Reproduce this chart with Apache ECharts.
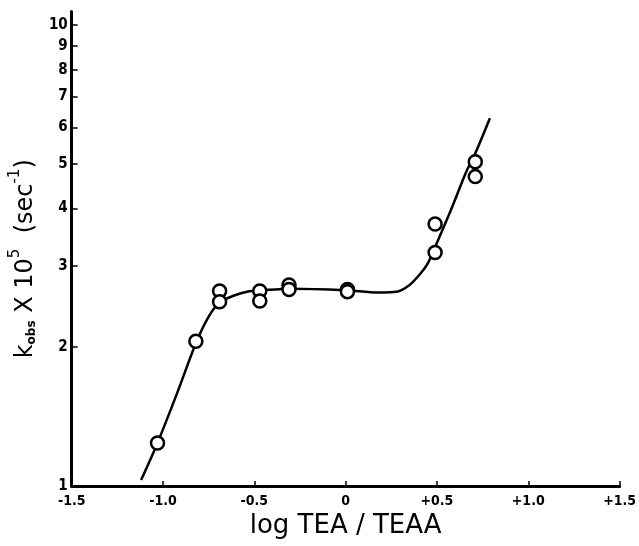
<!DOCTYPE html>
<html>
<head>
<meta charset="utf-8">
<script src="https://cdn.jsdelivr.net/npm/echarts@6/dist/echarts.min.js"></script>
<style>
  html, body { margin: 0; padding: 0; background: #fff; }
  #chart { width: 639px; height: 546px; }
</style>
</head>
<body>
<div id="chart"></div>
<script>
// measured points: log TEA/TEAA vs k_obs x 10^5
const pointX = [-1.03, -0.82, -0.69, -0.69, -0.47, -0.47, -0.31, -0.31, 0.01, 0.01, 0.49, 0.49, 0.71, 0.71]
const pointK = [1.24, 2.06, 2.65, 2.51, 2.65, 2.52, 2.73, 2.67, 2.67, 2.64, 3.70, 3.21, 5.05, 4.69]

// hand drawn fit curve
const curveX = [-1.12, -1.03, -0.92, -0.82, -0.75, -0.69, -0.61, -0.54, -0.45, -0.3, 0, 0.18, 0.28, 0.35, 0.41, 0.45, 0.49, 0.58, 0.66, 0.71, 0.79]
const curveK = [1.03, 1.24, 1.6, 2.04, 2.33, 2.5, 2.59, 2.64, 2.66, 2.68, 2.66, 2.63, 2.64, 2.73, 2.89, 3.04, 3.3, 4.0, 4.8, 5.27, 6.28]

const yTicks = [1, 2, 3, 4, 5, 6, 7, 8, 9, 10]
const xTicks = [-1.5, -1.0, -0.5, 0, 0.5, 1.0, 1.5]
const xTickLabels = ['-1.5', '-1.0', '-0.5', '0', '+0.5', '+1.0', '+1.5']

const chart = echarts.init(document.getElementById('chart'))

const labelFont = '"DejaVu Sans Condensed", "DejaVu Sans", sans-serif'
const titleFont = '"DejaVu Sans", sans-serif'

const option = {
  animation: false,
  backgroundColor: '#fff',
  grid: {
    left: 68.5,
    right: 12,
    top: 11.5,
    bottom: 60
  },
  xAxis: {
    type: 'value',
    min: -1.5,
    max: 1.5,
    interval: 0.5,
    splitLine: { show: false },
    axisLine: { onZero: false, lineStyle: { color: '#000', width: 3 } },
    axisTick: { inside: true, length: 5, lineStyle: { color: '#000', width: 1.5 } },
    axisLabel: {
      color: '#000',
      fontSize: 14,
      fontWeight: 'bold',
      fontFamily: labelFont,
      margin: 8,
      formatter: v => {
        const i = xTicks.findIndex(t => Math.abs(t - v) < 1e-6)
        return i >= 0 ? xTickLabels[i] : ''
      }
    },
    name: 'log TEA / TEAA',
    nameLocation: 'middle',
    nameGap: 27,
    nameTextStyle: { color: '#000', fontSize: 26, fontFamily: titleFont }
  },
  yAxis: {
    type: 'log',
    logBase: 10,
    min: 1,
    max: 10.7,
    splitLine: { show: false },
    minorTick: { show: false },
    axisLine: { onZero: false, lineStyle: { color: '#000', width: 3 } },
    axisTick: { inside: true, length: 6, customValues: yTicks, lineStyle: { color: '#000', width: 1.5 } },
    axisLabel: {
      color: '#000',
      fontSize: 15,
      fontWeight: 'bold',
      fontFamily: labelFont,
      margin: 4,
      customValues: yTicks,
      formatter: v => String(Math.round(v))
    },
    name: '{a|k}{sub|obs}{a| X 10}{sup|5}{a|  (sec}{sup|-1}{a|)}',
    nameLocation: 'middle',
    nameGap: 30,
    nameRotate: 90,
    nameTextStyle: {
      color: '#000',
      fontFamily: titleFont,
      padding: [0, 20, 0, 0],
      rich: {
        a: { fontSize: 24, fontFamily: titleFont, color: '#000', verticalAlign: 'bottom', lineHeight: 30 },
        sub: { fontSize: 12, fontFamily: titleFont, color: '#000', fontWeight: 'bold', verticalAlign: 'bottom', lineHeight: 24 },
        sup: { fontSize: 15, fontFamily: titleFont, color: '#000', verticalAlign: 'top', lineHeight: 30 }
      }
    }
  },
  series: [
    {
      type: 'line',
      data: curveX.map((x, i) => [x, curveK[i]]),
      smooth: 0.3,
      showSymbol: false,
      lineStyle: { color: '#000', width: 2.5 },
      z: 2
    },
    {
      type: 'scatter',
      data: pointX.map((x, i) => [x, pointK[i]]),
      symbol: 'circle',
      symbolSize: 13,
      itemStyle: { color: '#fff', borderColor: '#000', borderWidth: 2.5, opacity: 1 },
      emphasis: { disabled: true },
      z: 3
    }
  ]
}

chart.setOption(option)
</script>
</body>
</html>
